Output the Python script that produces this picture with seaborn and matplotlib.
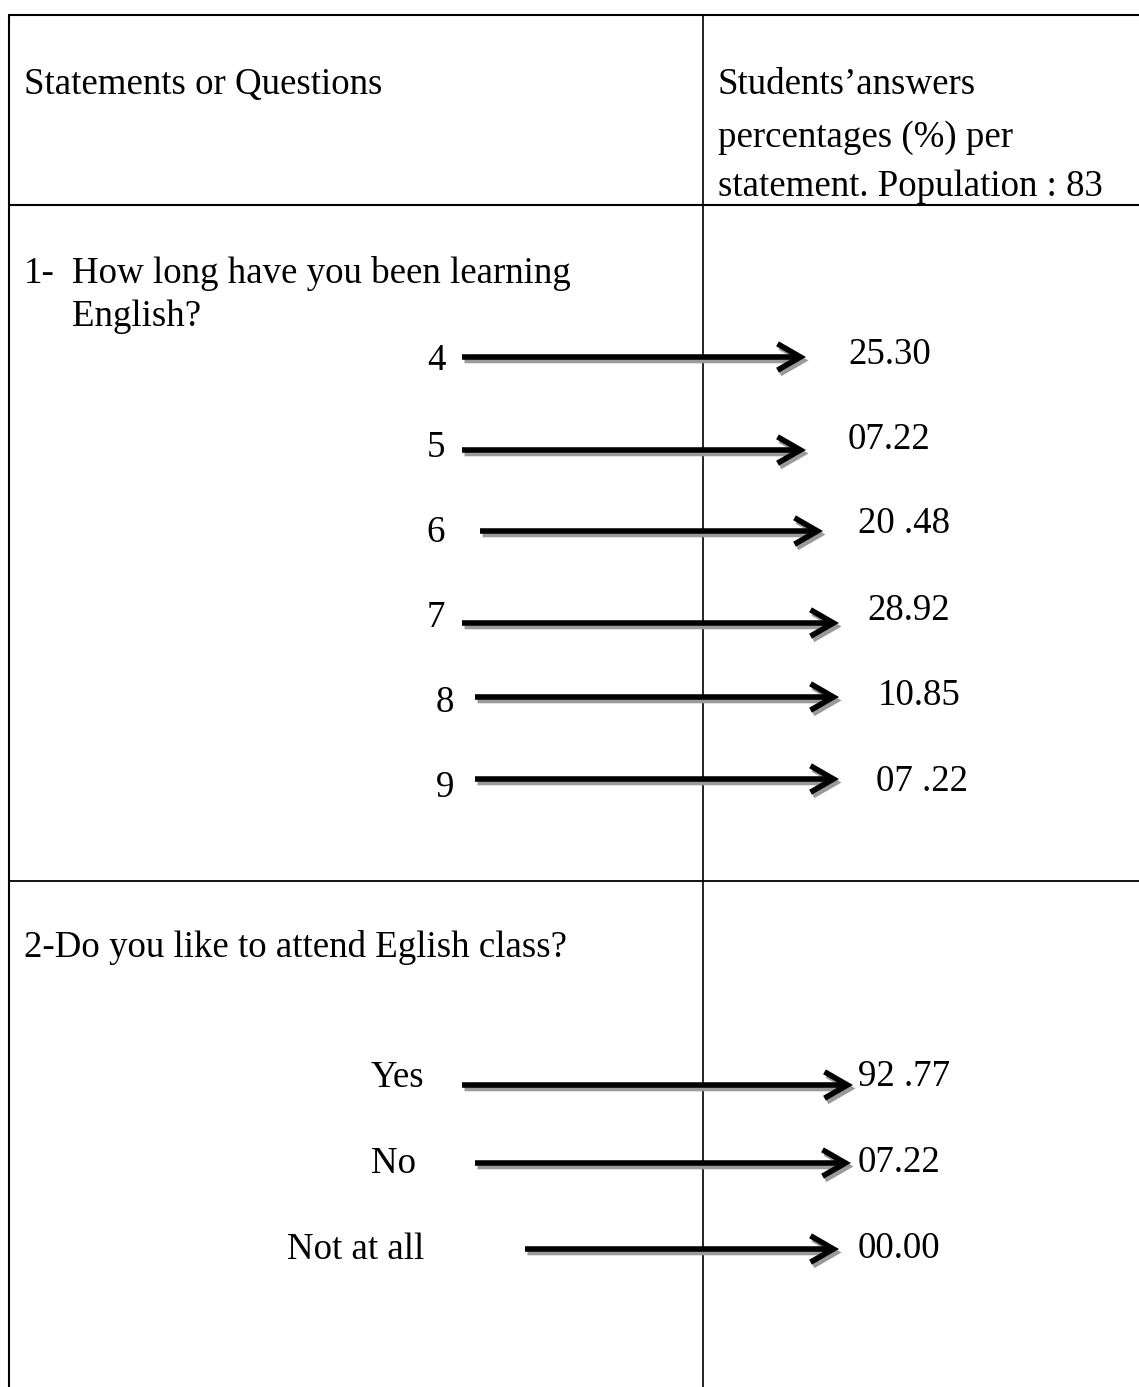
import matplotlib.pyplot as plt
import seaborn as sns
from matplotlib.patches import FancyArrowPatch

header_left = "Statements or Questions"
header_right = ["Students\u2019answers", "percentages (%) per", "statement. Population : 83"]

q1_number = "1-"
q1_text = ["How long have you been learning", "English?"]
q1_labels = ["4", "5", "6", "7", "8", "9"]
q1_values = ["25.30", "07.22", "20 .48", "28.92", "10.85", "07 .22"]

q2_text = "2-Do you like to attend Eglish class?"
q2_labels = ["Yes", "No", "Not at all"]
q2_values = ["92 .77", "07.22", "00.00"]

# --- layout (pixels, origin top-left) ---
W, H = 1139, 1387
label_x = [427, 427, 426, 427, 436, 436, 371, 371, 287]
label_base = [370, 457, 542, 627, 712, 797, 1087, 1173, 1259]
arrow_y = [357, 450, 531, 623, 697, 779, 1085, 1163, 1249]
arrow_x0 = [462, 462, 480, 462, 475, 475, 462, 475, 525]
arrow_x1 = [806, 806, 823, 839, 839, 839, 853, 851, 839]
value_x = [848, 848, 858, 867, 878, 876, 858, 858, 858]
value_base = [364, 449, 533, 620, 705, 791, 1086, 1172, 1258]

sns.set_theme(style="white")
plt.rcParams["font.family"] = ["Liberation Serif", "DejaVu Serif"]
FS = 26.6

fig = plt.figure(figsize=(W / 100, H / 100), dpi=100)
ax = fig.add_axes([0, 0, 1, 1])
ax.set_xlim(0, W)
ax.set_ylim(H, 0)
ax.axis("off")

# table grid
lw = 1.5
ax.plot([9, W], [15, 15], color="black", lw=lw)
ax.plot([9, W], [205, 205], color="black", lw=lw)
ax.plot([9, W], [881, 881], color="black", lw=1.3)
ax.plot([9, 9], [15, H], color="black", lw=lw)
ax.plot([703, 703], [15, H], color="black", lw=1.2)

def txt(x, y, s):
    ax.text(x, y, s, fontsize=FS, color="black", ha="left", va="baseline")

txt(24, 94, header_left)
for i, line in enumerate(header_right):
    txt(718, [94, 147, 196][i], line)

txt(24, 283, q1_number)
txt(72, 283, q1_text[0])
txt(72, 326, q1_text[1])
txt(24, 957, q2_text)

labels = q1_labels + q2_labels
values = q1_values + q2_values

style = "->,head_length=1.65,head_width=0.95"
for i, (lab, val) in enumerate(zip(labels, values)):
    y = arrow_y[i]
    # grey drop shadow, then the black arrow
    for dx, dy, col, z in [(2.5, 3.5, "#9a9a9a", 2), (0, 0, "black", 3)]:
        ax.add_patch(FancyArrowPatch(
            (arrow_x0[i] + dx, y + dy), (arrow_x1[i] + dx, y + dy),
            arrowstyle=style, mutation_scale=10, lw=4.0, color=col,
            shrinkA=0, shrinkB=0, capstyle="butt", joinstyle="miter", zorder=z))
    txt(label_x[i], label_base[i], lab)
    txt(value_x[i], value_base[i], val)

fig.savefig("out.png", dpi=100, facecolor="white")
